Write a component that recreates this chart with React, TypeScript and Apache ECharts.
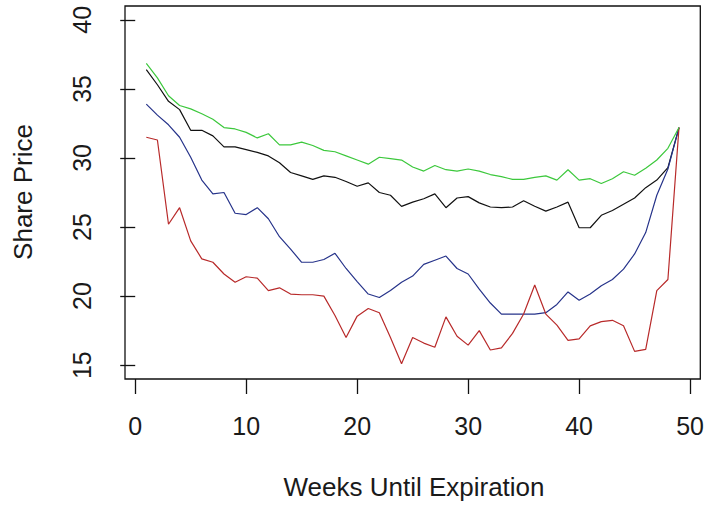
import React, { useEffect, useRef } from "react";
import * as echarts from "echarts";

// Weeks remaining until the option expires
const weeks = [
  1, 2, 3, 4, 5, 6, 7, 8, 9, 10, 11, 12, 13, 14, 15, 16, 17, 18, 19, 20, 21, 22, 23, 24, 25,
  26, 27, 28, 29, 30, 31, 32, 33, 34, 35, 36, 37, 38, 39, 40, 41, 42, 43, 44, 45, 46, 47, 48, 49,
];

// Simulated share price paths
const greenPath = [
  36.85, 35.8, 34.5, 33.8, 33.55, 33.2, 32.8, 32.2, 32.1, 31.85, 31.45, 31.75, 30.95, 30.95, 31.15,
  30.9, 30.55, 30.45, 30.15, 29.85, 29.55, 30.05, 29.95, 29.85, 29.35, 29.05, 29.45, 29.15, 29.05,
  29.2, 29.05, 28.8, 28.65, 28.45, 28.45, 28.6, 28.7, 28.4, 29.15, 28.4, 28.5, 28.15, 28.5, 29.0,
  28.75, 29.25, 29.85, 30.7, 32.2,
];
const blackPath = [
  36.4, 35.3, 34.1, 33.5, 32.0, 32.0, 31.6, 30.8, 30.8, 30.6, 30.4, 30.15, 29.65, 28.95, 28.7,
  28.45, 28.7, 28.6, 28.3, 27.95, 28.2, 27.5, 27.3, 26.5, 26.8, 27.05, 27.4, 26.4, 27.1, 27.2,
  26.75, 26.45, 26.4, 26.45, 26.9, 26.5, 26.15, 26.45, 26.8, 24.95, 24.95, 25.85, 26.2, 26.65,
  27.1, 27.85, 28.4, 29.3, 32.2,
];
const bluePath = [
  33.9, 33.1, 32.4, 31.5, 30.05, 28.4, 27.4, 27.5, 26.0, 25.9, 26.4, 25.6, 24.3, 23.4, 22.45,
  22.45, 22.65, 23.1, 22.0, 21.05, 20.15, 19.9, 20.4, 21.0, 21.45, 22.3, 22.6, 22.9, 22.0, 21.6,
  20.5, 19.5, 18.7, 18.7, 18.7, 18.7, 18.8, 19.4, 20.3, 19.7, 20.15, 20.75, 21.2, 21.95, 23.05,
  24.6, 27.3, 29.2, 32.2,
];
const redPath = [
  31.5, 31.3, 25.2, 26.4, 24.0, 22.7, 22.45, 21.6, 21.0, 21.4, 21.3, 20.4, 20.6, 20.15, 20.1,
  20.1, 20.0, 18.6, 17.0, 18.55, 19.1, 18.8, 17.0, 15.1, 17.0, 16.6, 16.3, 18.5, 17.1, 16.45,
  17.5, 16.1, 16.25, 17.3, 18.7, 20.8, 18.7, 17.9, 16.8, 16.9, 17.85, 18.15, 18.25, 17.85, 16.0,
  16.15, 20.4, 21.2, 32.2,
];

const xTicks = [0, 10, 20, 30, 40, 50];
const yTicks = [15, 20, 25, 30, 35, 40];

const FONT = "'Liberation Sans', Arial, sans-serif";

const pairs = (vals: number[]) => weeks.map((w, i) => [w, vals[i]]);

export default function App() {
  const ref = useRef<HTMLDivElement>(null);

  useEffect(() => {
    if (!ref.current) return;
    const chart = echarts.init(ref.current, null, { renderer: "svg" });

    const line = (name: string, vals: number[], color: string) => ({
      name,
      type: "line",
      data: pairs(vals),
      symbol: "none",
      lineStyle: { color, width: 1.2 },
      silent: true,
    });

    chart.setOption({
      animation: false,
      backgroundColor: "#ffffff",
      grid: {
        left: 125,
        top: 6,
        right: 5,
        bottom: 129,
        show: true,
        borderColor: "#111",
        borderWidth: 1.3,
        backgroundColor: "transparent",
      },
      xAxis: {
        type: "value",
        min: -0.92,
        max: 50.92,
        axisLine: { show: false },
        splitLine: { show: false },
        axisTick: {
          show: true,
          customValues: xTicks,
          length: 15,
          lineStyle: { color: "#111", width: 1.3 },
        },
        axisLabel: {
          customValues: xTicks,
          margin: 34,
          fontSize: 25,
          fontFamily: FONT,
          color: "#1a1a1a",
        },
      },
      yAxis: {
        type: "value",
        min: 14,
        max: 41,
        axisLine: { show: false },
        splitLine: { show: false },
        axisTick: {
          show: true,
          customValues: yTicks,
          length: 15,
          lineStyle: { color: "#111", width: 1.3 },
        },
        axisLabel: {
          customValues: yTicks,
          rotate: 90,
          margin: 31,
          fontSize: 25,
          fontFamily: FONT,
          color: "#1a1a1a",
        },
      },
      graphic: [
        {
          type: "text",
          x: 414,
          y: 487,
          style: {
            text: "Weeks Until Expiration",
            font: `26px ${FONT}`,
            fill: "#1a1a1a",
            textAlign: "center",
            textVerticalAlign: "middle",
          },
        },
        {
          type: "text",
          x: 23,
          y: 192,
          rotation: Math.PI / 2,
          style: {
            text: "Share Price",
            font: `26px ${FONT}`,
            fill: "#1a1a1a",
            textAlign: "center",
            textVerticalAlign: "middle",
          },
        },
      ],
      series: [
        line("Path A", blackPath, "#111111"),
        line("Path B", bluePath, "#26338a"),
        line("Path C", redPath, "#b82a2a"),
        line("Path D", greenPath, "#3cc83c"),
      ],
    });

    return () => chart.dispose();
  }, []);

  return (
    <div
      ref={ref}
      style={{ position: "absolute", left: 0, top: 0, width: 707, height: 508 }}
    />
  );
}
